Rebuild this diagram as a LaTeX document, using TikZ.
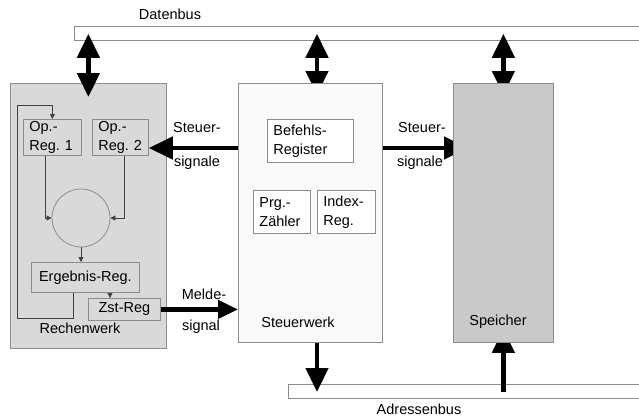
\documentclass[tikz,border=0pt]{standalone}
\usepackage{fontspec}
\setmainfont{Liberation Sans}
\usetikzlibrary{arrows.meta}
\pgfdeclarelayer{bus}
\pgfdeclarelayer{wires}
\pgfsetlayers{bus,wires,main}

\begin{document}
\begin{tikzpicture}[x=1pt,y=-1pt,
  every node/.style={font=\fontsize{14.5}{19}\selectfont},
  unit/.style={draw=black!45,line width=0.8pt,anchor=north west,inner sep=0pt},
  reg/.style={draw=black!45,line width=0.8pt,anchor=north west,inner xsep=6pt,inner ysep=1pt,align=left},
  bus/.style={draw=black!45,fill=white,line width=0.8pt,anchor=north west,inner sep=0pt,minimum height=14pt},
  fat/.style={line width=4.5pt,-{Triangle[width=22pt,length=24pt]}},
  fatboth/.style={line width=4.5pt,{Triangle[width=22pt,length=24pt]}-{Triangle[width=22pt,length=24pt]}},
  wire/.style={draw=black!75,line width=0.8pt,-{Triangle[width=5pt,length=5pt]}}]
\useasboundingbox (0,0) rectangle (639,418);
\begin{pgfonlayer}{bus}
\node[bus,minimum width=580pt] (dbus) at (74,26) {};
\node[bus,minimum width=360pt] (abus) at (288,384) {};
\end{pgfonlayer}
\node (dlabel) at (170,14) {Datenbus};
\node (alabel) at (419,409) {Adressenbus};

\node[unit,fill=black!15,minimum width=156pt,minimum height=265pt] (rw) at (10,83) {};
\node[unit,fill=black!2,minimum width=144pt,minimum height=259pt] (sw) at (238,83) {};
\node[unit,fill=black!21,minimum width=100pt,minimum height=259pt] (sp) at (453,83) {};
\node (rwlabel) at (80,328) {Rechenwerk};
\node (swlabel) at (298,322) {Steuerwerk};
\node (splabel) at (498,322) {Speicher};

\node[reg,text width=46pt,minimum height=36pt] (opa) at (23,119) {Op.-\\Reg.~1};
\node[reg,text width=44pt,minimum height=36pt] (opb) at (92,119) {Op.-\\Reg.~2};
\node[circle,draw=black!45,line width=0.8pt,minimum size=58pt,inner sep=0pt] (alu) at (81,218) {};
\node[reg,align=center,minimum width=108pt,minimum height=30pt] (erg) at (31,262) {Ergebnis-Reg.};
\node[reg,align=center,minimum width=72pt,minimum height=22pt,inner sep=0pt] (zst) at (88,298) {Zst-Reg};
\node[reg,fill=white,text width=74pt,minimum height=43pt] (befehl) at (267,119) {Befehls-\\Register};
\node[reg,fill=white,text width=45pt,minimum height=43pt] (prg) at (253,190) {Prg.-\\Zähler};
\node[reg,fill=white,text width=46pt,minimum height=43pt] (index) at (317,190) {Index-\\Reg.};

\draw[wire] ([xshift=22pt]opa.south west) |- (alu.west);
\draw[wire] ([xshift=32pt]opb.south west) |- (alu.east);
\draw[wire] (alu.south) -- (alu.south |- erg.north);
\coordinate (zin) at ([xshift=22pt]zst.north west);
\draw[wire] (zin |- erg.south) -- (zin);
\draw[wire] ([xshift=42pt]erg.south west) -- ++(0,26) -| ++(-56,-213) -| (opa.north);

\coordinate (swx) at ([xshift=79pt]sw.north west);
\coordinate (sig) at ([yshift=-65pt]sw.north east);
\begin{pgfonlayer}{wires}
\draw[fatboth,shorten <=-7pt,shorten >=-12pt] (swx |- dbus.south) -- (swx);
\draw[fatboth,shorten <=-7pt,shorten >=-12pt] (sp.north |- dbus.south) -- (sp.north);
\draw[fat,shorten >=-15pt] (sig) -- (sig -| sp.west);
\draw[fat,shorten <=-8pt,shorten >=-14pt] (sp.south |- abus.north) -- (sp.south);
\end{pgfonlayer}
\draw[fatboth,shorten <=-7pt,shorten >=-14pt] (rw.north |- dbus.south) -- (rw.north);
\draw[fat] (sig -| sw.west) -- (sig -| opb.east);
\draw[fat,-{Triangle[width=18pt,length=20pt]}] (zst.east) -- (zst.east -| sw.west);
\draw[fat,shorten >=-8pt] (swx |- sw.south) -- (swx |- abus.north);

\node (sla) at (197,128) {Steuer-};
\node (slb) at (197,163) {signale};
\node (sra) at (422,128) {Steuer-};
\node (srb) at (420,163) {signale};
\node (mla) at (204,294) {Melde-};
\node (mlb) at (201,327) {signal};
\end{tikzpicture}
\end{document}
